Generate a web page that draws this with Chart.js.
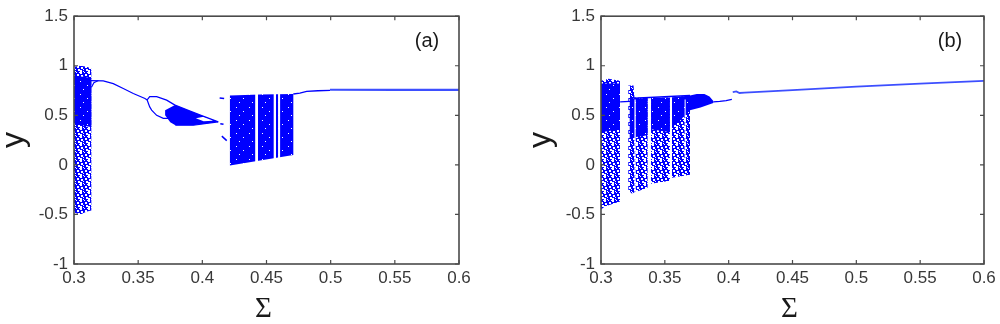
<!DOCTYPE html>
<html><head><meta charset="utf-8">
<script src="https://cdn.jsdelivr.net/npm/chart.js@4.4.1/dist/chart.umd.min.js"></script>
<style>
html,body{margin:0;padding:0;background:#fff;width:1000px;height:324px;overflow:hidden}
#ca{position:absolute;left:0;top:0}
#cb{position:absolute;left:500px;top:0}
</style></head><body>
<canvas id="ca" width="500" height="324"></canvas>
<canvas id="cb" width="500" height="324"></canvas>
<script>
// ---------- axes ----------
const xTicks = [0.3, 0.35, 0.4, 0.45, 0.5, 0.55, 0.6];
const xTickLabels = ['0.3', '0.35', '0.4', '0.45', '0.5', '0.55', '0.6'];
const yTicks = [-1, -0.5, 0, 0.5, 1, 1.5];
const yTickLabels = ['-1', '-0.5', '0', '0.5', '1', '1.5'];

// ---------- panel (a) ----------
const aChaos1Top = [[0.300, 0.99], [0.305, 1.00], [0.310, 0.99], [0.3135, 0.97]];
const aChaos1Bot = [[0.300, -0.48], [0.305, -0.50], [0.310, -0.47], [0.3135, -0.46]];
const aCore1Top = [[0.300, 0.90], [0.3135, 0.88]];
const aCore1Bot = [[0.300, 0.42], [0.3135, 0.38]];
const aHook = [[0.3135, 0.78], [0.3155, 0.83], [0.319, 0.852]];
const aMain = [[0.3130, 0.850], [0.3228, 0.848], [0.3306, 0.82], [0.3384, 0.77], [0.3462, 0.72], [0.3553, 0.67], [0.3570, 0.655]];
const aEyeUp = [[0.3570, 0.655], [0.3590, 0.688], [0.3644, 0.688], [0.3722, 0.653], [0.3787, 0.603]];
const aEyeLow = [[0.3570, 0.655], [0.3590, 0.585], [0.3605, 0.552], [0.3644, 0.50], [0.3696, 0.47], [0.3740, 0.47]];
const aWedgeTop = [[0.3710, 0.55], [0.3787, 0.603], [0.3900, 0.545], [0.4000, 0.495], [0.4124, 0.434]];
const aWedgeBot = [[0.3710, 0.50], [0.3750, 0.43], [0.3790, 0.40], [0.3930, 0.40], [0.4033, 0.418], [0.4124, 0.434]];
const aLensTop = [[0.3950, 0.47], [0.4010, 0.485], [0.4080, 0.458]];
const aLensBot = [[0.3950, 0.47], [0.4010, 0.440], [0.4080, 0.446]];
const aDash1 = [[0.4135, 0.675], [0.4170, 0.670]];
const aDash2 = [[0.4140, 0.415], [0.4165, 0.410]];
const aDash3 = [[0.4152, 0.290], [0.4190, 0.245]];
const aChaos2Top = [[0.4215, 0.70], [0.4450, 0.71], [0.4709, 0.715]];
const aChaos2Bot = [[0.4215, -0.005], [0.4450, 0.045], [0.4709, 0.100]];
const aGaps = [[0.4412, 0.4434, -0.05, 0.75], [0.4556, 0.4574, -0.05, 0.75], [0.4590, 0.4606, -0.05, 0.75]];
const aTail1 = [[0.4709, 0.715], [0.4760, 0.725], [0.4813, 0.742], [0.4900, 0.748], [0.4995, 0.752]];
const aTail2 = [[0.4995, 0.758], [0.5500, 0.757], [0.6000, 0.757]];

// ---------- panel (b) ----------
const bChaos1Top = [[0.300, 0.85], [0.306, 0.87], [0.3149, 0.85]];
const bChaos1Bot = [[0.300, -0.45], [0.303, -0.42], [0.3149, -0.37]];
const bCore1Top = [[0.300, 0.82], [0.3149, 0.82]];
const bCore1Bot = [[0.300, 0.33], [0.3149, 0.36]];
const bLink = [[0.3150, 0.635], [0.3225, 0.640]];
const bChaos2Top = [[0.3214, 0.80], [0.3255, 0.80], [0.3262, 0.68], [0.3365, 0.675]];
const bChaos2Bot = [[0.3214, -0.25], [0.3240, -0.29], [0.3365, -0.23]];
const bCore2Top = [[0.3225, 0.67], [0.3365, 0.672]];
const bCore2Bot = [[0.3225, 0.27], [0.3365, 0.30]];
const bChaos3Top = [[0.3392, 0.675], [0.3540, 0.68]];
const bChaos3Bot = [[0.3392, -0.19], [0.3540, -0.16]];
const bCore3Top = [[0.3392, 0.675], [0.3540, 0.68]];
const bCore3Bot = [[0.3392, 0.36], [0.3540, 0.33]];
const bChaos4Top = [[0.3556, 0.68], [0.3697, 0.70]];
const bChaos4Bot = [[0.3556, -0.13], [0.3697, -0.10]];
const bCore4Top = [[0.3556, 0.68], [0.3697, 0.70]];
const bCore4Bot = [[0.3556, 0.38], [0.3620, 0.45], [0.3697, 0.55]];
const bWedgeTop = [[0.3697, 0.70], [0.3750, 0.715], [0.3810, 0.715], [0.3850, 0.69], [0.3880, 0.645]];
const bWedgeBot = [[0.3697, 0.55], [0.3780, 0.58], [0.3880, 0.625]];
const bGaps = [[0.3262, 0.3272, -0.30, 0.66], [0.3655, 0.3663, 0.05, 0.66]];
const bTopEdge = [[0.3255, 0.672], [0.3697, 0.700]];
const bLine1 = [[0.3880, 0.635], [0.3930, 0.640], [0.3980, 0.648], [0.4025, 0.660]];
const bLine2 = [[0.4032, 0.735], [0.4060, 0.742], [0.4085, 0.725], [0.4125, 0.728], [0.4500, 0.755], [0.5000, 0.790], [0.5500, 0.820], [0.6000, 0.848]];

// ---------- styles ----------
function speckle(size, holes) {
  const c = document.createElement('canvas');
  c.width = size; c.height = size;
  const g = c.getContext('2d');
  g.fillStyle = '#0000ff'; g.fillRect(0, 0, size, size);
  g.fillStyle = '#ffffff';
  holes.forEach(h => g.fillRect(h[0], h[1], h[2], h[2]));
  return g.createPattern(c, 'repeat');
}
const sparse = speckle(8, [[0,0,2],[4,0,1],[5,2,2],[1,3,2],[3,5,1],[6,5,2],[0,6,2],[3,7,1],[7,0,1]]);
const dense = speckle(13, [[2,3,1],[9,7,1],[5,11,1]]);
const BLUE = '#0000ff';

const pt = p => ({x: p[0], y: p[1]});
function band(top, bot, fillStyle) {
  return {data: top.concat(bot.slice().reverse()).map(pt), fill: 'shape',
    backgroundColor: fillStyle, borderColor: 'rgba(0,0,0,0)', borderWidth: 0, pointRadius: 0, tension: 0};
}
function gap(g) {
  return band([[g[0], g[3]], [g[1], g[3]]], [[g[0], g[2]], [g[1], g[2]]], '#ffffff');
}
function line(p, w, color) {
  return {data: p.map(pt), fill: false, borderColor: color || BLUE, borderWidth: w || 1.2,
    pointRadius: 0, tension: 0, backgroundColor: 'rgba(0,0,0,0)'};
}

const frame = {
  id: 'frame',
  afterDraw(chart, args, o) {
    const {ctx, chartArea: a, scales: {x, y}} = chart;
    ctx.save();
    ctx.strokeStyle = '#4a4a4a'; ctx.lineWidth = 1.6;
    ctx.strokeRect(a.left, a.top, a.right - a.left, a.bottom - a.top);
    ctx.lineWidth = 1.2; ctx.beginPath();
    xTicks.forEach(v => { const px = x.getPixelForValue(v);
      ctx.moveTo(px, a.bottom); ctx.lineTo(px, a.bottom - 4);
      ctx.moveTo(px, a.top); ctx.lineTo(px, a.top + 4); });
    yTicks.forEach(v => { const py = y.getPixelForValue(v);
      ctx.moveTo(a.left, py); ctx.lineTo(a.left + 4, py);
      ctx.moveTo(a.right, py); ctx.lineTo(a.right - 4, py); });
    ctx.stroke();
    ctx.fillStyle = '#1a1a1a';
    ctx.font = '20px "Liberation Sans", Arial, sans-serif';
    ctx.textAlign = 'center'; ctx.textBaseline = 'middle';
    ctx.fillText(o.label, a.right - o.labelDx, a.top + 25);
    ctx.font = '29px "Liberation Serif", serif';
    ctx.textBaseline = 'alphabetic';
    ctx.fillText('\u03A3', (a.left + a.right) / 2 - 3, 317);
    ctx.translate(o.yTitleX, (a.top + a.bottom) / 2);
    ctx.rotate(-Math.PI / 2);
    ctx.font = '32px "Liberation Sans", Arial, sans-serif';
    ctx.fillText('y', 0, 0);
    ctx.restore();
  }
};

const tickFont = {family: '"Liberation Sans", Arial, sans-serif', size: 17};
const tickColor = '#383838';

function makeChart(id, layers, yWidth, rightPad, label, labelDx, yTitleX) {
  const n = layers.length;
  layers.forEach((d, i) => { d.order = n - i; });
  return new Chart(document.getElementById(id), {
    type: 'line',
    data: {datasets: layers},
    options: {
      responsive: false, animation: false, devicePixelRatio: 1,
      layout: {padding: {left: 0, right: rightPad, top: 16, bottom: 0}},
      plugins: {legend: {display: false}, tooltip: {enabled: false},
        frame: {label: label, labelDx: labelDx, yTitleX: yTitleX}},
      scales: {
        x: {type: 'linear', min: 0.3, max: 0.6,
          afterBuildTicks: s => { s.ticks = xTicks.map(v => ({value: v})); },
          afterFit: s => { s.height = 60; },
          ticks: {callback: (v, i) => xTickLabels[i], font: tickFont, color: tickColor, padding: 4, maxRotation: 0, autoSkip: false},
          grid: {display: false, drawTicks: false}, border: {display: false}},
        y: {type: 'linear', min: -1, max: 1.5,
          afterBuildTicks: s => { s.ticks = yTicks.map(v => ({value: v})); },
          afterFit: s => { s.width = yWidth; },
          ticks: {callback: (v, i) => yTickLabels[i], font: tickFont, color: tickColor, padding: 6, autoSkip: false},
          grid: {display: false, drawTicks: false}, border: {display: false}}
      }
    },
    plugins: [frame]
  });
}

// painter's order: first drawn first
const layersA = [
  band(aChaos1Top, aChaos1Bot, sparse),
  band(aCore1Top, aCore1Bot, dense),
  band(aWedgeTop, aWedgeBot, BLUE),
  band(aLensTop, aLensBot, '#ffffff'),
  band(aChaos2Top, aChaos2Bot, dense),
  ...aGaps.map(gap),
  line(aHook), line(aMain), line(aEyeUp), line(aEyeLow),
  line(aWedgeTop.slice(1), 1.2), line(aWedgeBot.slice(2), 1.2),
  line(aDash1, 1.5), line(aDash2, 1.5), line(aDash3, 1.5),
  line(aTail1, 1.3), line(aTail2, 2.2, 'rgba(40,60,255,0.9)')
];
const layersB = [
  band(bChaos1Top, bChaos1Bot, sparse),
  band(bCore1Top, bCore1Bot, dense),
  band(bChaos2Top, bChaos2Bot, sparse),
  band(bCore2Top, bCore2Bot, dense),
  band(bChaos3Top, bChaos3Bot, sparse),
  band(bCore3Top, bCore3Bot, dense),
  band(bChaos4Top, bChaos4Bot, sparse),
  band(bCore4Top, bCore4Bot, dense),
  band(bWedgeTop, bWedgeBot, BLUE),
  ...bGaps.map(gap),
  line(bLink, 1.3), line(bTopEdge, 1.3), line(bLine1, 1.3),
  line(bLine2, 1.8, 'rgba(40,60,255,0.9)')
];

makeChart('ca', layersA, 74, 41, '(a)', 32, 23);
makeChart('cb', layersB, 101, 16, '(b)', 34, 50);
</script></body></html>
